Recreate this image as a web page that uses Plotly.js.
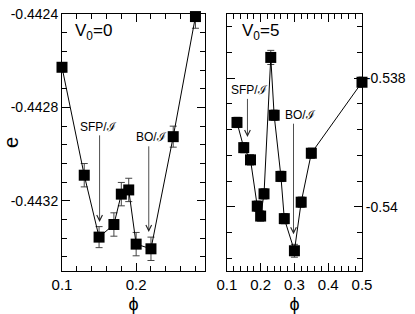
<!DOCTYPE html>
<html><head><meta charset="utf-8">
<script src="https://cdn.plot.ly/plotly-3.0.1.min.js"></script>
<style>body{margin:0;background:#fff}</style>
</head><body><div id="chart" style="width:415px;height:314px"></div>
<script>
// V0 = 0 panel
const phiV0 = [0.10, 0.13, 0.15, 0.17, 0.18, 0.19, 0.20, 0.22, 0.25, 0.28];
const eV0 = [-0.442628, -0.44309, -0.443355, -0.443301, -0.443171, -0.443153, -0.443385, -0.443405, -0.442925, -0.442411];
const errV0 = [0.00002, 0.00005, 0.000045, 0.00005, 0.00005, 0.00005, 0.00005, 0.00005, 0.000045, 0.00005];
// V0 = 5 panel
const phiV5 = [0.13, 0.15, 0.17, 0.19, 0.20, 0.21, 0.23, 0.24, 0.26, 0.27, 0.30, 0.32, 0.35, 0.50];
const eV5 = [-0.538688, -0.539080, -0.539270, -0.539991, -0.540145, -0.539799, -0.537676, -0.538576, -0.539528, -0.540185, -0.540685, -0.539929, -0.539167, -0.538062];
const errV5 = [0.00008, 0.00008, 0.00008, 0.00008, 0.00008, 0.00008, 0.00011, 0.00008, 0.00008, 0.00008, 0.0001, 0.00008, 0.00008, 0.00008];
// tick labels
const xTicksLeft = [0.1, 0.2];
const xTicksRight = [0.1, 0.2, 0.3, 0.4, 0.5];
const yTicksLeft = [-0.4424, -0.4428, -0.4432];
const yLabelsLeft = ['-0.4424', '-0.4428', '-0.4432'];
const yTicksRight = [-0.538, -0.54];
const yLabelsRight = ['-0.538', '-0.54'];
// arrows: [x, tail y, tip y]
const arrowsLeft = [[0.1507, -0.442913, -0.44329], [0.217, -0.44296, -0.443333]];
const arrowsRight = [[0.161, -0.538298, -0.538915], [0.2973, -0.538684, -0.540427]];
// arrow labels: [x, y, text]
const labelsLeft = [[0.1495, -0.442883, 'SFP/ℐ'], [0.2202, -0.442925, 'BO/ℐ']];
const labelsRight = [[0.166, -0.53819, 'SFP/ℐ'], [0.317, -0.538577, 'BO/ℐ']];

const FONT = 'Liberation Sans, Arial, sans-serif';
const markerStyle = {symbol: 'square', size: 11, color: '#000'};
const errStyle = (arr) => ({type: 'data', array: arr, visible: true, color: '#444', thickness: 1, width: 3.5});

const traces = [
  {x: phiV0, y: eV0, error_y: errStyle(errV0), mode: 'lines+markers', cliponaxis: false, line: {color: '#000', width: 1}, marker: markerStyle, xaxis: 'x', yaxis: 'y'},
  {x: phiV5, y: eV5, error_y: errStyle(errV5), mode: 'lines+markers', cliponaxis: false, line: {color: '#000', width: 1}, marker: markerStyle, xaxis: 'x2', yaxis: 'y2'}
];

const axBase = {
  showgrid: false, zeroline: false, showline: true, linecolor: '#000', linewidth: 1,
  mirror: 'ticks', ticks: 'inside', ticklen: 8, tickwidth: 1, tickcolor: '#000',
  tickfont: {family: FONT, size: 15, color: '#000'}
};

function arrows(list, xr, yr) {
  return list.map(a => ({
    x: a[0], y: a[2], ax: a[0], ay: a[1], xref: xr, yref: yr, axref: xr, ayref: yr,
    text: '', showarrow: true, arrowhead: 5, arrowsize: 1.4, arrowwidth: 0.8, arrowcolor: '#222', standoff: 0, startstandoff: 0
  }));
}
function labels(list, xr, yr) {
  return list.map(a => ({
    x: a[0], y: a[1], xref: xr, yref: yr, text: a[2], showarrow: false,
    font: {family: FONT, size: 12, color: '#000'}
  }));
}

const layout = {
  width: 415, height: 314,
  margin: {l: 62, r: 53, t: 14, b: 43},
  paper_bgcolor: '#fff', plot_bgcolor: '#fff',
  showlegend: false,
  xaxis: Object.assign({}, axBase, {domain: [0, 0.477], range: [0.1, 0.293], tickvals: xTicksLeft, ticktext: xTicksLeft.map(String),
    minor: {dtick: 0.02, tick0: 0.1, ticks: 'inside', ticklen: 5, tickcolor: '#000'},
    title: {text: 'ϕ', font: {family: FONT, size: 18, color: '#000'}, standoff: 6}}),
  yaxis: Object.assign({}, axBase, {domain: [0, 1], range: [-0.4435, -0.4424], tickvals: yTicksLeft, ticktext: yLabelsLeft,
    tickfont: {family: FONT, size: 14, color: '#000'},
    minor: {dtick: 0.00008, tick0: -0.4424, ticks: 'inside', ticklen: 5, tickcolor: '#000'},
    title: {text: 'e', font: {family: FONT, size: 20, color: '#000'}, standoff: 4}}),
  xaxis2: Object.assign({}, axBase, {domain: [0.5495, 1], range: [0.1, 0.5], anchor: 'y2', tickvals: xTicksRight, ticktext: xTicksRight.map(String),
    minor: {dtick: 0.02, tick0: 0.1, ticks: 'inside', ticklen: 5, tickcolor: '#000'},
    title: {text: 'ϕ', font: {family: FONT, size: 18, color: '#000'}, standoff: 6}}),
  yaxis2: Object.assign({}, axBase, {domain: [0, 1], range: [-0.541, -0.537], anchor: 'x2', side: 'right', tickvals: yTicksRight, ticktext: yLabelsRight,
    tickfont: {family: FONT, size: 14, color: '#000'},
    minor: {dtick: 0.0004, tick0: -0.538, ticks: 'inside', ticklen: 5, tickcolor: '#000'}}),
  annotations: [
    ...arrows(arrowsLeft, 'x', 'y'),
    ...arrows(arrowsRight, 'x2', 'y2'),
    ...labels(labelsLeft, 'x', 'y'),
    ...labels(labelsRight, 'x2', 'y2'),
    {xref: 'x domain', yref: 'y domain', x: 0.08, y: 0.93, xanchor: 'left', yanchor: 'middle', showarrow: false,
     text: 'V<sub>0</sub>=0', font: {family: FONT, size: 17, color: '#000'}},
    {xref: 'x2 domain', yref: 'y2 domain', x: 0.095, y: 0.93, xanchor: 'left', yanchor: 'middle', showarrow: false,
     text: 'V<sub>0</sub>=5', font: {family: FONT, size: 17, color: '#000'}}
  ]
};

Plotly.newPlot('chart', traces, layout, {displayModeBar: false, staticPlot: true});
</script>
</body></html>
